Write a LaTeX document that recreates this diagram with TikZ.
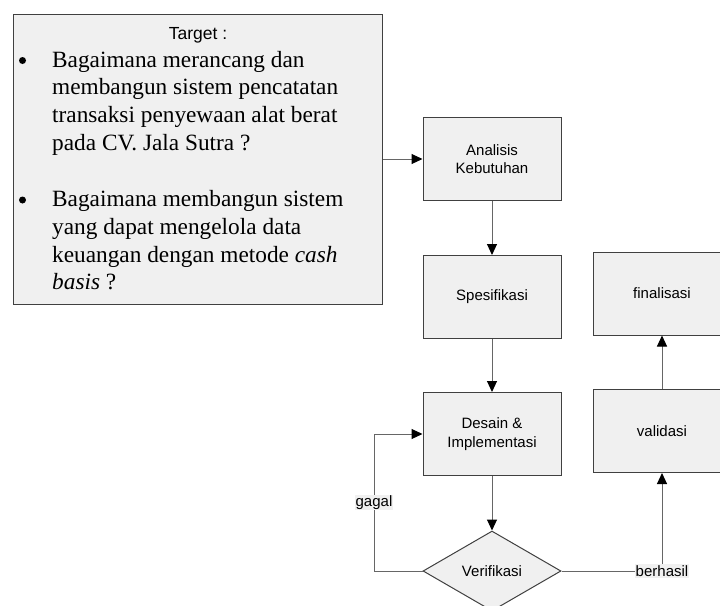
\documentclass[tikz,border=0pt]{standalone}
\usepackage{fontspec}
\setmainfont{Liberation Serif}
\setsansfont{Liberation Sans}
\usetikzlibrary{arrows.meta, positioning, shapes}
\definecolor{box_gray}{HTML}{F0F0F0}
\definecolor{edge_gray}{HTML}{404040}
\definecolor{line_gray}{HTML}{666666}
\tikzset{
  step_box/.style={draw=edge_gray, fill=box_gray, line width=1pt,
    minimum width=138pt, minimum height=83pt, align=center,
    font=\fontsize{15}{18.5}\selectfont\sffamily},
  check_box/.style={diamond, draw=edge_gray, fill=box_gray, line width=1pt,
    minimum width=138pt, minimum height=80pt, inner sep=0pt,
    font=\fontsize{15}{18.5}\selectfont\sffamily},
  flow/.style={draw=line_gray, line width=1pt,
    -{Triangle[length=11pt,width=10pt,color=black]}},
  flow_label/.style={fill=box_gray, inner sep=1pt,
    font=\fontsize{15}{18.5}\selectfont\sffamily},
  quest/.style={anchor=base west, inner sep=0pt,
    font=\fontsize{23.3}{27.8}\selectfont},
  dot/.style={circle, fill=black, inner sep=0pt, minimum size=7pt}
}

\begin{document}
\begin{tikzpicture}[x=1pt,y=-1pt]
  \useasboundingbox (0,0) rectangle (720,605);
  \clip (0,0) rectangle (720,605);

  % target box
  \node[draw=edge_gray, fill=box_gray, line width=1pt,
    minimum width=369pt, minimum height=290pt] (target) at (197.5,159) {};
  \node[anchor=base, inner sep=0pt, font=\fontsize{17.5}{20}\selectfont\sffamily]
    (title) at (198,39) {Target :};
  \node[dot] (bul1) at (22.5,60.5) {};
  \node[dot] (bul2) at (22.5,200) {};
  \foreach \txt [count=\i] in {Bagaimana merancang dan,
      membangun sistem pencatatan,
      transaksi penyewaan alat berat,
      pada CV. Jala Sutra ?}
    \node[quest] (qa\i) at (52,{67+27.8*(\i-1)}) {\txt};
  \foreach \txt [count=\i] in {Bagaimana membangun sistem,
      yang dapat mengelola data,
      {keuangan dengan metode \textit{cash}},
      {\textit{basis} ?}}
    \node[quest] (qb\i) at (52,{206.5+27.8*(\i-1)}) {\txt};

  % flow steps
  \node[step_box] (analisis) at (492,159) {Analisis\\Kebutuhan};
  \node[step_box] (spesifikasi) at (492,297) {Spesifikasi};
  \node[step_box] (desain) at (492,434) {Desain \&\\Implementasi};
  \node[check_box] (verifikasi) at (492,571) {Verifikasi};
  \node[step_box] (validasi) at (662,431) {validasi};
  \node[step_box] (finalisasi) at (662,293.5) {finalisasi};
  \coordinate (loop) at (374,434);

  \draw[flow] (target.east) -- (analisis.west);
  \draw[flow] (analisis) -- (spesifikasi);
  \draw[flow] (spesifikasi) -- (desain);
  \draw[flow] (desain) -- (verifikasi);
  \draw[flow] (verifikasi.west) -| (loop)
    node[flow_label, pos=0.75] {gagal} -- (desain.west);
  \draw[flow] (verifikasi.east) -| (validasi.south)
    node[flow_label, pos=0.5] {berhasil};
  \draw[flow] (validasi) -- (finalisasi);

\end{tikzpicture}
\end{document}
